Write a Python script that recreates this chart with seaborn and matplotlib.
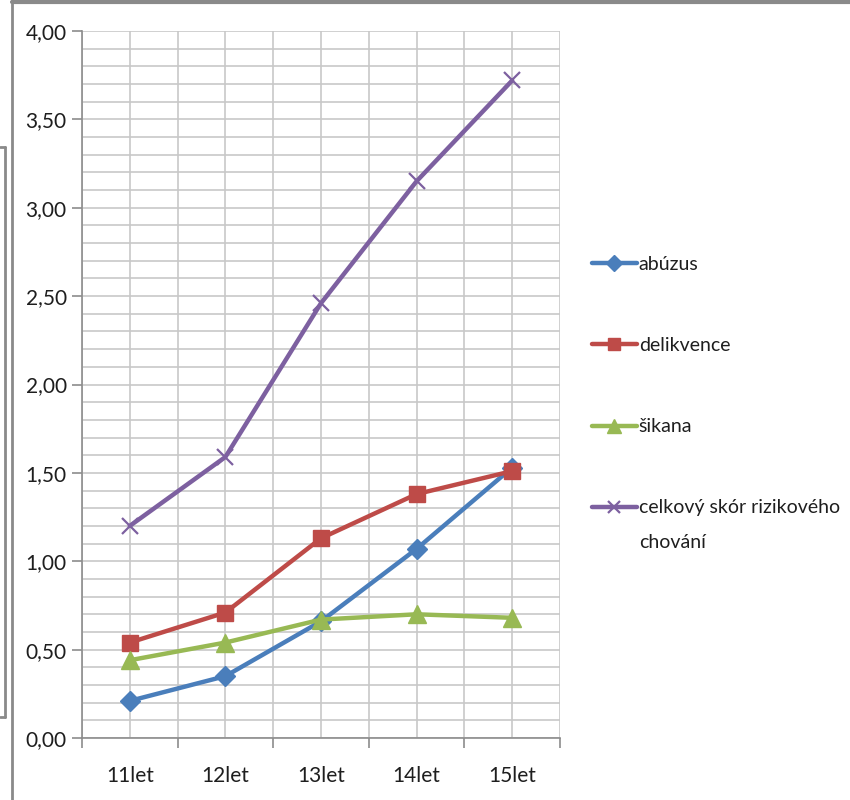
import numpy as np
import pandas as pd
import matplotlib
matplotlib.use("Agg")
import matplotlib.pyplot as plt
from matplotlib.ticker import MultipleLocator, FuncFormatter, FixedLocator
from matplotlib.lines import Line2D
import seaborn as sns

categories = ["11let", "12let", "13let", "14let", "15let"]
abuzus = [0.21, 0.35, 0.66, 1.07, 1.53]
delikvence = [0.54, 0.71, 1.13, 1.38, 1.51]
sikana = [0.44, 0.54, 0.67, 0.70, 0.68]
celkovy = [1.20, 1.59, 2.46, 3.15, 3.72]

series = [
    ("abúzus", abuzus, "#4A7EBB", "D", 10),
    ("delikvence", delikvence, "#BE4B48", "s", 11),
    ("šikana", sikana, "#98B954", "^", 13),
    ("celkový skór rizikového", celkovy, "#7D60A0", "x", 11),
]
label_wrap = "chování"  # second line of the last legend label

sns.set_style("white")
plt.rcParams["font.family"] = ["Lato", "DejaVu Sans"]
txt = "#1E1E1E"
fs = 15
lfs = 14

fig = plt.figure(figsize=(8.5, 8), dpi=100)
ax = fig.add_axes([82 / 850, 1 - 738 / 800, (560 - 82) / 850, (738 - 31) / 800])

pos = np.arange(len(categories))
for name, vals, col, mk, ms in series:
    df = pd.DataFrame({"x": pos, "y": vals})
    sns.lineplot(data=df, x="x", y="y", ax=ax, color=col, lw=3.2, marker=mk,
                 markersize=ms, markeredgecolor=col, markeredgewidth=1.6 if mk == "x" else 1,
                 label=name, zorder=3)

ax.set_xlim(-0.5, len(categories) - 0.5)
ax.set_ylim(0, 4)
ax.set_xlabel("")
ax.set_ylabel("")

ax.xaxis.set_major_locator(FixedLocator(pos))
ax.set_xticklabels(categories)
ax.xaxis.set_minor_locator(FixedLocator(np.arange(-0.5, len(categories), 1.0)))
ax.yaxis.set_major_locator(MultipleLocator(0.5))
ax.yaxis.set_minor_locator(MultipleLocator(0.1))
ax.yaxis.set_major_formatter(FuncFormatter(lambda v, p: f"{v:.2f}".replace(".", ",")))

ax.grid(True, which="both", color="#C8C8C8", lw=1.2, zorder=0)
ax.set_axisbelow(True)
ax.tick_params(axis="x", which="major", length=0, pad=20, labelsize=fs, colors=txt)
ax.tick_params(axis="x", which="minor", length=7, width=1.2, color="#8C8C8C", bottom=True)
ax.tick_params(axis="y", which="major", length=7, width=1.2, color="#8C8C8C", labelsize=fs,
               labelcolor=txt, pad=4, left=True)
ax.tick_params(axis="y", which="minor", length=0)

for s in ["top", "right"]:
    ax.spines[s].set_visible(False)
for s in ["left", "bottom"]:
    ax.spines[s].set_color("#8C8C8C")
    ax.spines[s].set_linewidth(1.2)
ax.spines["bottom"].set_zorder(4)

leg = ax.legend(loc="upper left", bbox_to_anchor=(592 / 850, 1 - 256 / 800),
                bbox_transform=fig.transFigure, frameon=False, fontsize=lfs,
                handlelength=2.3, handletextpad=0.1, labelspacing=3.3,
                borderpad=0, borderaxespad=0, markerscale=0.8)
for t in leg.get_texts():
    t.set_color(txt)

# second line of the last label, placed under it once the legend is laid out
fig.canvas.draw()
bb = leg.get_texts()[-1].get_window_extent()
fig.text(bb.x0 / 850, (bb.y0 - 34) / 800, label_wrap, ha="left", va="bottom",
         fontsize=lfs, color=txt)

# outer frame of the screenshot
grey = "#8A8A8A"
fig.add_artist(Line2D([12 / 850, 12 / 850], [0, 1], color=grey, lw=2))
fig.add_artist(Line2D([12 / 850, 1], [1 - 1.5 / 800, 1 - 1.5 / 800], color=grey, lw=3))
fig.add_artist(Line2D([5 / 850, 5 / 850], [1 - 147 / 800, 1 - 717 / 800], color=grey, lw=2))
fig.add_artist(Line2D([0, 5 / 850], [1 - 147 / 800, 1 - 147 / 800], color=grey, lw=2))
fig.add_artist(Line2D([0, 5 / 850], [1 - 717 / 800, 1 - 717 / 800], color=grey, lw=2))

fig.savefig("out.png", dpi=100)
